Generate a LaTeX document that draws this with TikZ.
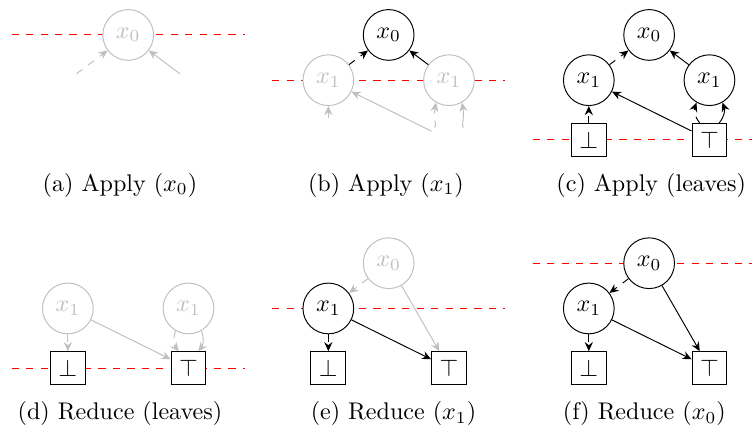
\documentclass[tikz,border=0pt]{standalone}
\usepackage{amsmath,amssymb}
\usepackage{tikz}
\usetikzlibrary{arrows.meta}
\pgfdeclarelayer{cutlayer}
\pgfsetlayers{cutlayer,main}
\tikzset{
  bddvar/.style={circle, draw, fill=white, minimum size=0.74cm, inner sep=0pt},
  bddleaf/.style={rectangle, draw, fill=white},
  lowarc/.style={-{Stealth[length=3.8pt,width=3.4pt,inset=1.3pt]}, dashed},
  higharc/.style={-{Stealth[length=3.8pt,width=3.4pt,inset=1.3pt]}},
  faded/.style={draw=black!25, text=black!25},
  cutline/.style={draw=red, dashed},
}
\begin{document}
\begin{tikzpicture}
  \useasboundingbox (0,0) rectangle (11.0,-6.21);
  \begin{pgfonlayer}{cutlayer}
    \draw[cutline] (0.17,-0.51) -- (3.57,-0.51);
    \draw[cutline] (3.97,-1.17) -- (7.37,-1.17);
    \draw[cutline] (7.77,-2.04) -- (10.97,-2.04);
    \draw[cutline] (0.17,-5.37) -- (3.57,-5.37);
    \draw[cutline] (3.97,-4.50) -- (7.37,-4.50);
    \draw[cutline] (7.77,-3.84) -- (10.97,-3.84);
  \end{pgfonlayer}
  \begin{scope}[shift={(1.87,-0.51)}]
    \node[bddvar, faded] (a-x0) at (0,0) {$x_0$};
    \coordinate (a-x1l) at (-0.88,-0.66);
    \coordinate (a-x1r) at (0.88,-0.66);
    \draw[lowarc, faded, shorten <=4.5pt] (a-x1l) -- (a-x0);
    \draw[higharc, faded, shorten <=4.5pt] (a-x1r) -- (a-x0);
    \node[anchor=base] (a-cap) at (-0.12,-2.28) {(a) Apply ($x_0$)};
  \end{scope}
  \begin{scope}[shift={(5.67,-0.51)}]
    \node[bddvar] (b-x0) at (0,0) {$x_0$};
    \node[bddvar, faded] (b-x1l) at (-0.88,-0.66) {$x_1$};
    \node[bddvar, faded] (b-x1r) at (0.88,-0.66) {$x_1$};
    \coordinate (b-bot) at (-0.88,-1.53);
    \coordinate (b-top) at (0.88,-1.53);
    \draw[lowarc] (b-x1l) -- (b-x0);
    \draw[higharc] (b-x1r) -- (b-x0);
    \draw[lowarc, faded, shorten <=9pt] (b-bot) -- (b-x1l);
    \draw[higharc, faded, shorten <=8pt] (b-top) -- (b-x1l);
    \draw[lowarc, faded, shorten <=8pt] (b-top) to[bend left=30] (b-x1r);
    \draw[higharc, faded, shorten <=8pt] (b-top) to[bend right=30] (b-x1r);
    \node[anchor=base] (b-cap) at (-0.04,-2.28) {(b) Apply ($x_1$)};
  \end{scope}
  \begin{scope}[shift={(9.47,-0.51)}]
    \node[bddvar] (c-x0) at (0,0) {$x_0$};
    \node[bddvar] (c-x1l) at (-0.88,-0.66) {$x_1$};
    \node[bddvar] (c-x1r) at (0.88,-0.66) {$x_1$};
    \node[bddleaf] (c-bot) at (-0.88,-1.53) {$\bot$};
    \node[bddleaf] (c-top) at (0.88,-1.53) {$\top$};
    \draw[lowarc] (c-x1l) -- (c-x0);
    \draw[higharc] (c-x1r) -- (c-x0);
    \draw[lowarc] (c-bot) -- (c-x1l);
    \draw[higharc] (c-top) -- (c-x1l);
    \draw[lowarc] (c-top) to[bend left=30] (c-x1r);
    \draw[higharc] (c-top) to[bend right=30] (c-x1r);
    \node[anchor=base] (c-cap) at (0.03,-2.28) {(c) Apply (leaves)};
  \end{scope}
  \begin{scope}[shift={(1.87,-3.84)}]
    \node[bddvar, faded] (d-x1l) at (-0.88,-0.66) {$x_1$};
    \node[bddvar, faded] (d-x1r) at (0.88,-0.66) {$x_1$};
    \node[bddleaf] (d-bot) at (-0.88,-1.53) {$\bot$};
    \node[bddleaf] (d-top) at (0.88,-1.53) {$\top$};
    \draw[lowarc, faded] (d-x1l) -- (d-bot);
    \draw[higharc, faded] (d-x1l) -- (d-top);
    \draw[lowarc, faded] (d-x1r) to[bend right=30] (d-top);
    \draw[higharc, faded] (d-x1r) to[bend left=30] (d-top);
    \node[anchor=base] (d-cap) at (-0.12,-2.28) {(d) Reduce (leaves)};
  \end{scope}
  \begin{scope}[shift={(5.67,-3.84)}]
    \node[bddvar, faded] (e-x0) at (0,0) {$x_0$};
    \node[bddvar] (e-x1) at (-0.88,-0.66) {$x_1$};
    \node[bddleaf] (e-bot) at (-0.88,-1.53) {$\bot$};
    \node[bddleaf] (e-top) at (0.88,-1.53) {$\top$};
    \draw[lowarc, faded] (e-x0) -- (e-x1);
    \draw[higharc, faded] (e-x0) -- (e-top);
    \draw[lowarc] (e-x1) -- (e-bot);
    \draw[higharc] (e-x1) -- (e-top);
    \node[anchor=base] (e-cap) at (0.07,-2.28) {(e) Reduce ($x_1$)};
  \end{scope}
  \begin{scope}[shift={(9.47,-3.84)}]
    \node[bddvar] (f-x0) at (0,0) {$x_0$};
    \node[bddvar] (f-x1) at (-0.88,-0.66) {$x_1$};
    \node[bddleaf] (f-bot) at (-0.88,-1.53) {$\bot$};
    \node[bddleaf] (f-top) at (0.88,-1.53) {$\top$};
    \draw[lowarc] (f-x0) -- (f-x1);
    \draw[higharc] (f-x0) -- (f-top);
    \draw[lowarc] (f-x1) -- (f-bot);
    \draw[higharc] (f-x1) -- (f-top);
    \node[anchor=base] (f-cap) at (-0.07,-2.28) {(f) Reduce ($x_0$)};
  \end{scope}
\end{tikzpicture}
\end{document}
